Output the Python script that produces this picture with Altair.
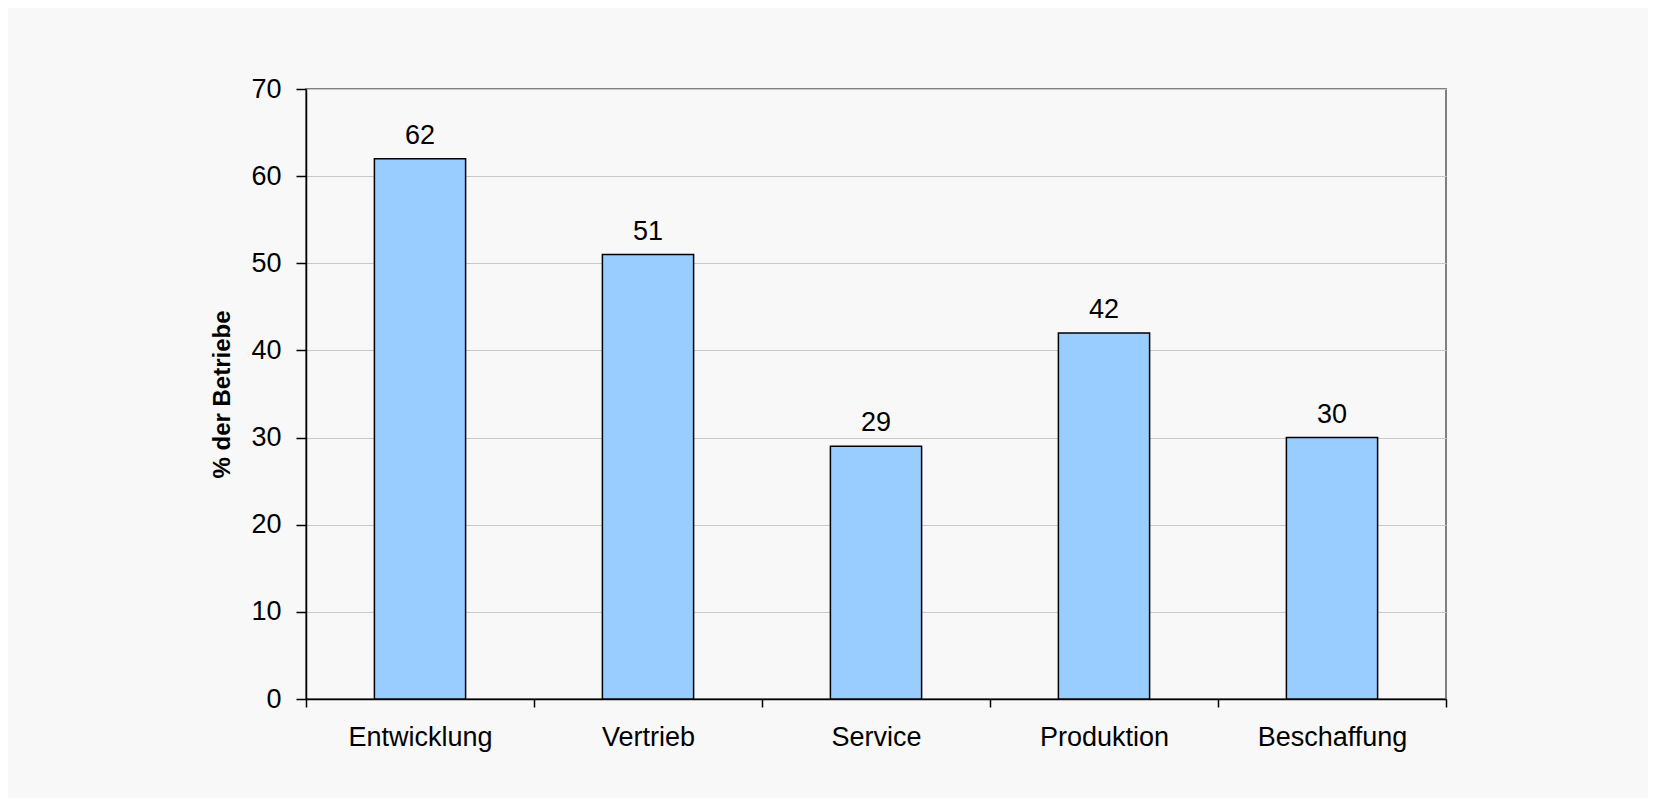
import altair as alt
import pandas as pd

categories = ["Entwicklung", "Vertrieb", "Service", "Produktion", "Beschaffung"]
values = [62, 51, 29, 42, 30]
y_ticks = [0, 10, 20, 30, 40, 50, 60, 70]

df = pd.DataFrame({"Bereich": categories, "Wert": values})

FONT = "Liberation Sans"

x_enc = alt.X(
    "Bereich:N",
    sort=categories,
    scale=alt.Scale(paddingInner=0, paddingOuter=0),
    axis=alt.Axis(
        title=None,
        labelAngle=0,
        labelFont=FONT,
        labelFontSize=27,
        labelColor="black",
        labelBaseline="top",
        labelPadding=17,
        tickBand="extent",
        tickSize=8,
        tickColor="black",
        tickWidth=1.5,
        domainColor="black",
        domainWidth=1.5,
        grid=False,
    ),
)

y_enc = alt.Y(
    "Wert:Q",
    scale=alt.Scale(domain=[0, 70], nice=False),
    axis=alt.Axis(
        title="% der Betriebe",
        values=y_ticks,
        titleFont=FONT,
        titleFontSize=24,
        titleFontWeight="bold",
        titleColor="black",
        titleAngle=-90,
        titleAlign="center",
        titleBaseline="middle",
        titleX=-84,
        titleY=305,
        labelFont=FONT,
        labelFontSize=27,
        labelColor="black",
        labelPadding=15,
        tickSize=10,
        tickColor="black",
        tickWidth=1.5,
        domainColor="black",
        domainWidth=1.5,
        grid=True,
        gridColor="#c8c8c8",
        gridWidth=1,
    ),
)

bars = alt.Chart(df).mark_bar(
    color="#99ccff", stroke="black", strokeWidth=1.5,
    width=alt.RelativeBandSize(0.4),
).encode(x=x_enc, y=y_enc)

labels = alt.Chart(df).mark_text(
    font=FONT, fontSize=27, color="black", baseline="alphabetic", dy=-15
).encode(x=alt.X("Bereich:N", sort=categories), y="Wert:Q", text="Wert:Q")

chart = (
    alt.layer(bars, labels)
    .properties(
        width=1140,
        height=610,
        background="#f8f8f8",
        padding={"left": 298, "top": 81, "right": 202, "bottom": 99},
        autosize=alt.AutoSizeParams(type="none"),
    )
    .configure_view(stroke="#808080", strokeWidth=2)
)

chart.save("out.html", embed_options={"renderer": "svg", "actions": False})
